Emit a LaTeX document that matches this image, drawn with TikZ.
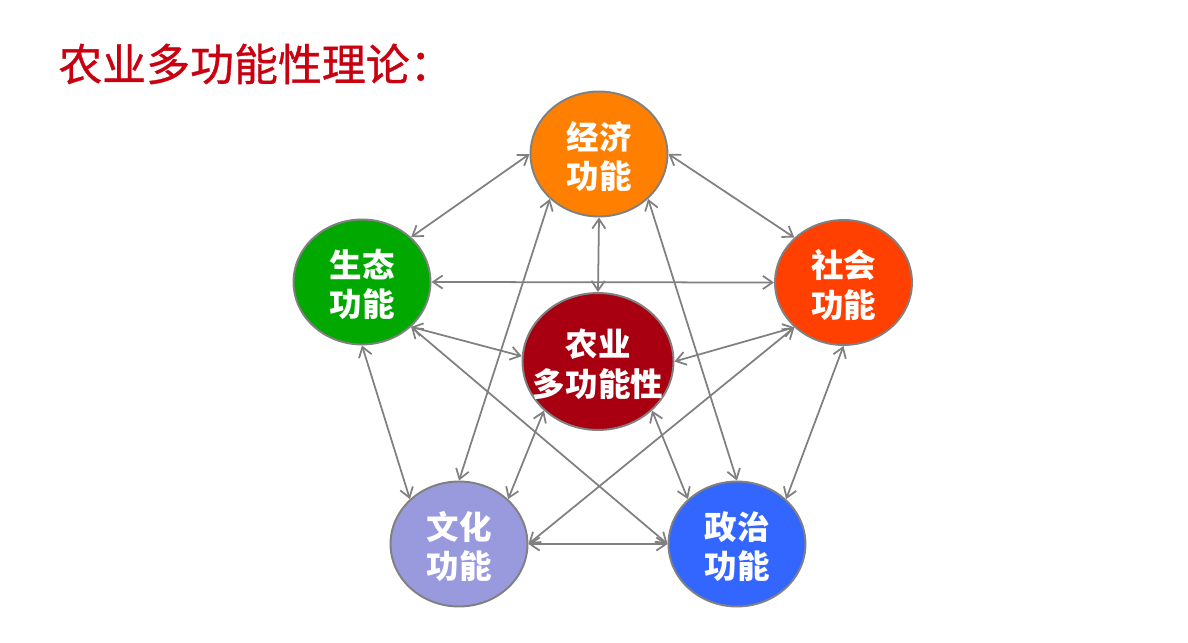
\documentclass[tikz,border=0pt]{standalone}
\usepackage{fontspec}
\setmainfont{Noto Sans CJK SC}
\newfontfamily\titlefont{Noto Sans CJK SC}[FakeBold=0.8]
\usepackage{tikz}
\usetikzlibrary{arrows.meta, shapes.geometric}

\definecolor{titlered}{RGB}{200,0,16}
\definecolor{linkgray}{RGB}{128,128,128}
\definecolor{jjorange}{RGB}{255,128,0}
\definecolor{stgreen}{RGB}{0,168,0}
\definecolor{shred}{RGB}{255,64,0}
\definecolor{nyred}{RGB}{168,0,16}
\definecolor{whlilac}{RGB}{153,153,221}
\definecolor{zzblue}{RGB}{51,102,255}

\begin{document}
\begin{tikzpicture}[x=0.02cm, y=-0.02cm,
        func/.style={ellipse, draw=linkgray, line width=1.1pt, inner sep=0pt,
            minimum width=2.74cm, minimum height=2.5cm},
        lbl/.style={text=white, align=center, inner sep=0pt, yshift=-1.5pt,
            font=\bfseries\fontsize{18.5}{22.5}\selectfont},
        link/.style={{Straight Barb[length=5.5pt,width=7.5pt]}-{Straight Barb[length=5.5pt,width=7.5pt]},
            draw=linkgray, line width=1pt}]
    \useasboundingbox (0,0) rectangle (1188,643);

    \node[anchor=west, inner sep=0pt, text=titlered, font=\titlefont\fontsize{25}{30}\selectfont]
        (title) at (58,64) {农业多功能性理论：};

    % the six functions
    \node[func, fill=jjorange, label={[lbl]center:经济\\功能}] (jj) at (599,154) {};
    \node[func, fill=stgreen, label={[lbl]center:生态\\功能}] (st) at (362,282) {};
    \node[func, fill=shred, label={[lbl]center:社会\\功能}] (sh) at (843.5,282.5) {};
    \node[func, fill=nyred, minimum width=3.02cm, minimum height=2.74cm,
        label={[lbl]center:农业\\多功能性}] (ny) at (598,361.5) {};
    \node[func, fill=whlilac, label={[lbl]center:文化\\功能}] (wh) at (459,544) {};
    \node[func, fill=zzblue, label={[lbl]center:政治\\功能}] (zz) at (737,544) {};

    \draw[link] (jj.west) -- (st.north east);
    \draw[link] (jj.east) -- (sh.north west);
    \draw[link] (jj.south) -- (ny.north);
    \draw[link] (jj.south west) -- (wh.north);
    \draw[link] (jj.south east) -- (zz.north);
    \draw[link] (st.east) -- (sh.west);
    \draw[link] (st.south east) -- (ny.176);
    \draw[link] (st.south east) -- (zz.west);
    \draw[link] (st.south) -- (wh.north west);
    \draw[link] (sh.south west) -- (ny.east);
    \draw[link] (sh.south west) -- (wh.east);
    \draw[link] (sh.south) -- (zz.north east);
    \draw[link] (ny.south west) -- (wh.north east);
    \draw[link] (ny.south east) -- (zz.north west);
    \draw[link] (wh.east) -- (zz.west);
\end{tikzpicture}
\end{document}
